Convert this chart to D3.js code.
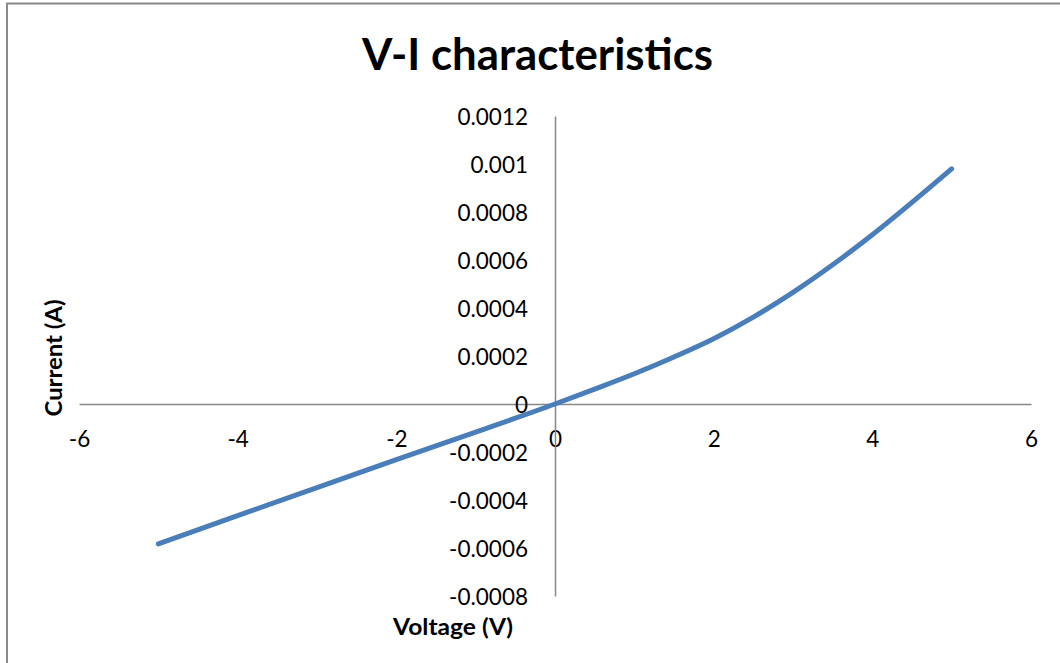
<!DOCTYPE html>
<html>
<head>
<meta charset="utf-8">
<script src="https://cdn.jsdelivr.net/npm/d3@7"></script>
<style>
  html, body { margin: 0; padding: 0; background: #ffffff; }
  svg { display: block; }
  text { font-family: Lato, "Open Sans", sans-serif; fill: #000; }
</style>
</head>
<body>
<svg id="chart" width="1060" height="663"></svg>
<script>
// Measured diode V-I curve
const voltage = [-5, -4, -3, -2, -1, 0, 0.5, 1, 1.5, 2, 2.5, 3, 3.5, 4, 4.5, 5];
const current = [-0.000583, -0.000465, -0.000348, -0.000232, -0.000117, 0,
                 0.000062, 0.000126, 0.000196, 0.000272, 0.000362, 0.000465,
                 0.000580, 0.000705, 0.000840, 0.000980];

// Axis ticks
const xTicks = [-6, -4, -2, 0, 2, 4, 6];
const yTicks = [-0.0008, -0.0006, -0.0004, -0.0002, 0, 0.0002, 0.0004, 0.0006, 0.0008, 0.001, 0.0012];
const yTickLabels = ["-0.0008", "-0.0006", "-0.0004", "-0.0002", "0", "0.0002", "0.0004", "0.0006", "0.0008", "0.001", "0.0012"];

const chartTitle = "V-I characteristics";
const xTitle = "Voltage (V)";
const yTitle = "Current (A)";

const svg = d3.select("#chart");

// Chart frame (left and top edges)
svg.append("path")
  .attr("d", "M7,670 L7,3.5 L1070,3.5")
  .attr("fill", "none")
  .attr("stroke", "#8a8a8a")
  .attr("stroke-width", 2);

const x = d3.scaleLinear().domain([-6, 6]).range([79, 1031]);
const y = d3.scaleLinear().domain([-0.0008, 0.0012]).range([596, 116]);

const axisColor = "#868686";

// Horizontal axis through zero
const xAxis = d3.axisBottom(x).tickValues(xTicks).tickSize(0).tickFormat(d3.format("d"));
const gx = svg.append("g").attr("transform", `translate(0,${y(0)})`).call(xAxis);
gx.select(".domain").attr("stroke", axisColor).attr("stroke-width", 1.5);
gx.selectAll(".tick text")
  .attr("y", 0).attr("dy", 0)
  .attr("transform", "translate(0,43)")
  .style("font-family", "Lato, sans-serif")
  .style("font-size", "22.5px")
  .attr("fill", "#000")
  .text(d => d < 0 ? "-" + Math.abs(d) : String(d));

// Vertical axis through zero
const yAxis = d3.axisLeft(y).tickValues(yTicks).tickSize(0)
  .tickFormat((d, i) => yTickLabels[i]);
const gy = svg.append("g").attr("transform", `translate(${x(0)},0)`).call(yAxis);
gy.select(".domain").attr("stroke", axisColor).attr("stroke-width", 1.5);
gy.selectAll(".tick text")
  .attr("x", -27).attr("dy", "0.36em")
  .style("font-family", "Lato, sans-serif")
  .style("font-size", "22.5px")
  .attr("fill", "#000");

// Data series
const data = voltage.map((v, i) => ({ v, c: current[i] }));
const line = d3.line().x(d => x(d.v)).y(d => y(d.c)).curve(d3.curveMonotoneX);
svg.append("path")
  .datum(data)
  .attr("d", line)
  .attr("fill", "none")
  .attr("stroke", "#4a7ebb")
  .attr("stroke-width", 5)
  .attr("stroke-linecap", "round")
  .attr("stroke-linejoin", "round");

// Titles
svg.append("text")
  .attr("x", 537.5).attr("y", 70)
  .attr("text-anchor", "middle")
  .style("font-size", "43px").style("font-weight", "bold")
  .attr("textLength", 351).attr("lengthAdjust", "spacingAndGlyphs")
  .text(chartTitle);

svg.append("text")
  .attr("x", 453).attr("y", 635)
  .attr("text-anchor", "middle")
  .style("font-size", "22.5px").style("font-weight", "bold")
  .attr("textLength", 120).attr("lengthAdjust", "spacingAndGlyphs")
  .text(xTitle);

svg.append("text")
  .attr("transform", "translate(62,358) rotate(-90)")
  .attr("text-anchor", "middle")
  .style("font-size", "22.5px").style("font-weight", "bold")
  .attr("textLength", 117).attr("lengthAdjust", "spacingAndGlyphs")
  .text(yTitle);
</script>
</body>
</html>
